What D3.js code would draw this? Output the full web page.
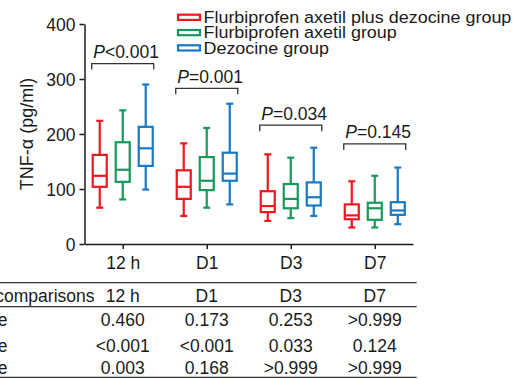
<!DOCTYPE html>
<html>
<head>
<meta charset="utf-8">
<script src="https://cdn.jsdelivr.net/npm/d3@7"></script>
<style>
  html, body { margin: 0; padding: 0; background: #fff; }
  svg { display: block; }
  text { font-family: "Liberation Sans", Arial, Helvetica, sans-serif; fill: #1a1a1a; }
</style>
</head>
<body>
<svg id="chart" width="526" height="379"></svg>
<script>
// ---------- data ----------
const categories = ["12 h", "D1", "D3", "D7"];
const groups = ["Flurbiprofen axetil plus dezocine group", "Flurbiprofen axetil group", "Dezocine group"];
const groupColors = ["#f0161e", "#16995a", "#1a78c4"];
// box stats: [min, q1, median, q3, max] per category
const comboStats = [[66, 104, 124, 162, 224], [51, 82, 104, 134, 183], [42, 58, 69, 96, 163], [30, 45, 52, 72, 114]];
const flurbiStats = [[81, 113, 135, 185, 243], [66, 98, 115, 158, 211], [47, 65, 82, 109, 157], [30, 44, 65, 75, 124]];
const dezoStats = [[99, 142, 174, 213, 290], [72, 115, 128, 166, 255], [51, 70, 85, 112, 175], [36, 53, 61, 76, 139]];
const yTicks = [0, 100, 200, 300, 400];
const pValues = ["<0.001", "=0.001", "=0.034", "=0.145"];
const bracketLevels = [328, 283, 216, 182];
const yLabel = "TNF-α (pg/ml)";
const tableHeader = ["Multiple comparisons", "12 h", "D1", "D3", "D7"];
const tableRowLabels = ["P value", "P value", "P value"];
const tableRow1 = ["0.460", "0.173", "0.253", ">0.999"];
const tableRow2 = ["<0.001", "<0.001", "0.033", "0.124"];
const tableRow3 = ["0.003", "0.168", ">0.999", ">0.999"];

// ---------- layout ----------
const svg = d3.select("#chart");
const FS = 17.5;
const axisColor = "#1a1a1a";

const y = d3.scaleLinear().domain([0, 400]).range([244, 24]);
const x = d3.scalePoint().domain(categories).range([84.5, 413]).padding(0.455);
const offset = d3.scalePoint().domain(groups).range([-23, 23]);
const allStats = [comboStats, flurbiStats, dezoStats];

// y axis
const yAxis = svg.append("g").attr("transform", "translate(84.5,0)")
  .call(d3.axisLeft(y).tickValues(yTicks).tickSize(5).tickSizeOuter(0).tickPadding(4));
// x axis
const xAxis = svg.append("g").attr("transform", "translate(0,244)")
  .call(d3.axisBottom(x).tickSize(5).tickSizeOuter(0).tickPadding(6));
[yAxis, xAxis].forEach(a => {
  a.selectAll("path, line").attr("stroke", axisColor).attr("stroke-width", 1.5);
  a.selectAll("text").style("font-size", FS + "px").attr("fill", axisColor)
    .style("font-family", '"Liberation Sans", Arial, sans-serif');
});
yAxis.selectAll("text").attr("dy", "0.36em");
xAxis.selectAll("text").attr("dy", "0.78em");

// y title
svg.append("text")
  .attr("transform", `translate(32.5,${(y(0) + y(400)) / 2}) rotate(-90)`)
  .attr("text-anchor", "middle")
  .style("font-size", "18px")
  .text(yLabel);

// boxes
const boxW = 14, capW = 7;
groups.forEach((g, gi) => {
  const color = groupColors[gi];
  const gg = svg.append("g").attr("stroke", color).attr("stroke-width", 2.2).attr("fill", "none");
  categories.forEach((c, ci) => {
    const s = allStats[gi][ci];
    const cx = x(c) + offset(g);
    gg.append("line").attr("x1", cx).attr("x2", cx).attr("y1", y(s[4])).attr("y2", y(s[3]));
    gg.append("line").attr("x1", cx).attr("x2", cx).attr("y1", y(s[1])).attr("y2", y(s[0]));
    gg.append("line").attr("x1", cx - capW / 2).attr("x2", cx + capW / 2).attr("y1", y(s[4])).attr("y2", y(s[4]));
    gg.append("line").attr("x1", cx - capW / 2).attr("x2", cx + capW / 2).attr("y1", y(s[0])).attr("y2", y(s[0]));
    gg.append("rect").attr("x", cx - boxW / 2).attr("width", boxW)
      .attr("y", y(s[3])).attr("height", y(s[1]) - y(s[3]));
    gg.append("line").attr("x1", cx - boxW / 2).attr("x2", cx + boxW / 2).attr("y1", y(s[2])).attr("y2", y(s[2]));
  });
});

// brackets and P labels
categories.forEach((c, ci) => {
  const left = x(c) - 31, right = x(c) + 31;
  const top = y(bracketLevels[ci]);
  svg.append("path")
    .attr("d", `M${left},${top + 6}V${top}H${right}V${top + 6}`)
    .attr("fill", "none").attr("stroke", "#333").attr("stroke-width", 1.3);
  const t = svg.append("text").attr("x", left + 1.5).attr("y", top - 5.5)
    .style("font-size", FS + "px");
  t.append("tspan").style("font-style", "italic").text("P");
  t.append("tspan").text(pValues[ci]);
});

// legend
groups.forEach((g, gi) => {
  const cy = 17.3 + gi * 15.3;
  svg.append("rect").attr("x", 178).attr("y", cy - 2.6).attr("width", 22).attr("height", 5.2)
    .attr("fill", "none").attr("stroke", groupColors[gi]).attr("stroke-width", 2.2);
  const tx = 203.5, ty = cy + 5.8;
  svg.append("text").attr("x", tx).attr("y", ty)
    .attr("transform", `translate(${tx},0) scale(1.087,1) translate(${-tx},0)`)
    .style("font-size", "16.5px").text(g);
});

// table
const tableRight = 416.7;
[282.7, 306.7, 377.3].forEach(ly => {
  svg.append("line").attr("x1", 0).attr("x2", tableRight).attr("y1", ly).attr("y2", ly)
    .attr("stroke", "#333").attr("stroke-width", 1.3);
});
svg.append("text").attr("x", 94.5).attr("y", 302.3).attr("text-anchor", "end")
  .style("font-size", FS + "px").text(tableHeader[0]);
categories.forEach((c, ci) => {
  svg.append("text").attr("x", x(c)).attr("y", 302.3).attr("text-anchor", "middle")
    .style("font-size", FS + "px").text(tableHeader[ci + 1]);
});
const rows = [tableRow1, tableRow2, tableRow3];
const rowY = [326, 351.5, 374];
rows.forEach((r, ri) => {
  svg.append("text").attr("x", 7.5).attr("y", rowY[ri]).attr("text-anchor", "end")
    .style("font-size", FS + "px").text(tableRowLabels[ri]);
  r.forEach((v, ci) => {
    svg.append("text").attr("x", x(categories[ci])).attr("y", rowY[ri]).attr("text-anchor", "middle")
      .style("font-size", FS + "px").text(v);
  });
});
</script>
</body>
</html>
